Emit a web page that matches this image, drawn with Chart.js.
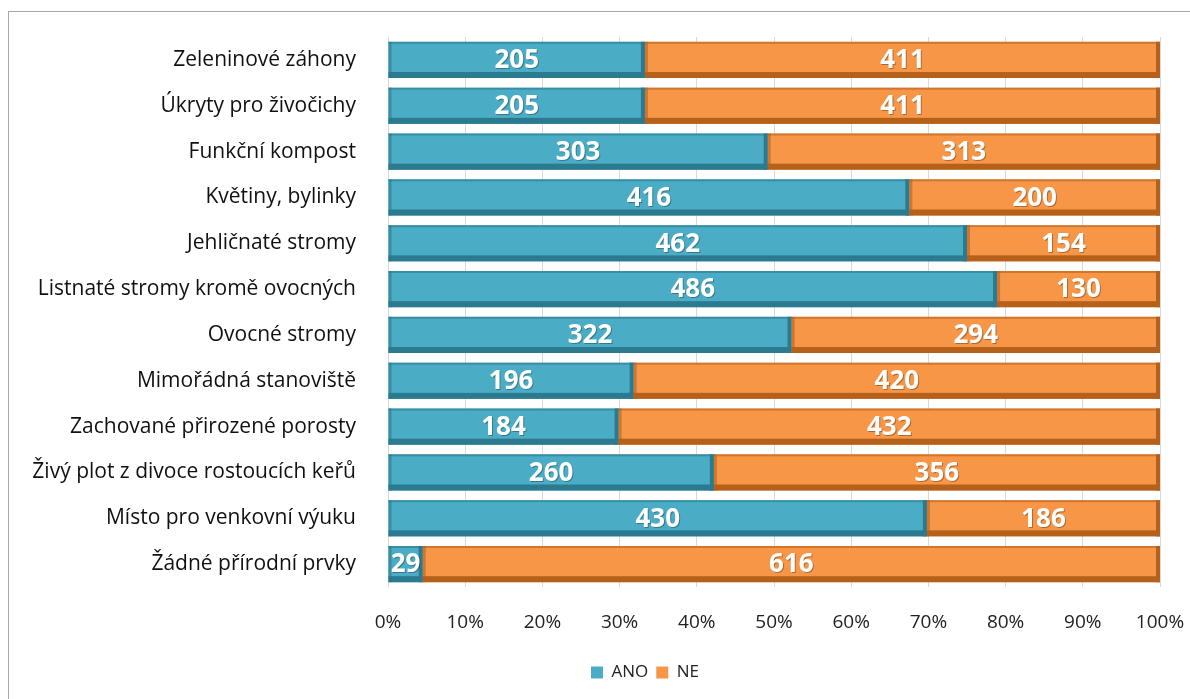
<!DOCTYPE html>
<html lang="cs">
<head>
  <meta charset="UTF-8">
  <title>Přírodní prvky na školních zahradách</title>
  <script src="https://cdn.jsdelivr.net/npm/chart.js"></script>
  <style>
    html, body { margin: 0; padding: 0; background: #fff; }
    #wrap { position: relative; width: 1190px; height: 699px; overflow: hidden; }
    #frame { position: absolute; left: 8px; top: 11px; width: 1200px; height: 720px; border: 1px solid #a8a8a8; box-sizing: border-box; }
    canvas { position: absolute; left: 0; top: 0; }
  </style>
</head>
<body>
  <div id="wrap">
    <div id="frame"></div>
    <canvas id="graf" width="1190" height="699"></canvas>
  </div>

  <script>
    const kategorie = [
      "Zeleninové záhony",
      "Úkryty pro živočichy",
      "Funkční kompost",
      "Květiny, bylinky",
      "Jehličnaté stromy",
      "Listnaté stromy kromě ovocných",
      "Ovocné stromy",
      "Mimořádná stanoviště",
      "Zachované přirozené porosty",
      "Živý plot z divoce rostoucích keřů",
      "Místo pro venkovní výuku",
      "Žádné přírodní prvky"
    ];
    const ano = [205, 205, 303, 416, 462, 486, 322, 196, 184, 260, 430, 29];
    const ne  = [411, 411, 313, 200, 154, 130, 294, 420, 432, 356, 186, 616];
    const osaX = [0, 10, 20, 30, 40, 50, 60, 70, 80, 90, 100];

    const FONT = "'Open Sans', 'DejaVu Sans', sans-serif";
    const modra = '#4bacc6', modraTm = '#2b7a90';
    const oranz = '#f79646', oranzTm = '#b5611c';

    // 100% skládaný graf: podíly ze skutečných počtů
    const anoPct = ano.map((v, i) => v / (v + ne[i]) * 100);
    const nePct  = ne.map((v, i) => v / (ano[i] + v) * 100);

    // plastický okraj sloupců a popisky hodnot
    const bevel = {
      id: 'bevel',
      afterLayout(chart) {
        // legenda je v originále posunutá doprava
        chart.legend.left += 60;
        chart.legend.right += 60;
      },
      afterDatasetsDraw(chart) {
        const ctx = chart.ctx;
        chart.data.datasets.forEach((ds, di) => {
          const meta = chart.getDatasetMeta(di);
          meta.data.forEach((bar, i) => {
            const x0 = Math.min(bar.base, bar.x), x1 = Math.max(bar.base, bar.x);
            const y0 = bar.y - bar.height / 2, y1 = bar.y + bar.height / 2;
            ctx.save();
            ctx.fillStyle = ds.dark;
            ctx.fillRect(x0, y1 - 6, x1 - x0, 6);
            ctx.fillRect(x1 - 4, y0, 4, y1 - y0);
            ctx.globalAlpha = 0.6;
            ctx.fillRect(x0, y0, 3, y1 - y0);
            ctx.fillRect(x0, y0, x1 - x0, 2);
            ctx.restore();

            const txt = String(ds.counts[i]);
            ctx.save();
            ctx.font = "bold 26px " + FONT;
            ctx.textAlign = 'center';
            ctx.textBaseline = 'middle';
            ctx.fillStyle = 'rgba(0,0,0,0.3)';
            const cx = (x0 + x1) / 2;
            ctx.fillText(txt, cx + 1, bar.y + 2);
            ctx.fillStyle = '#ffffff';
            ctx.fillText(txt, cx, bar.y + 1);
            ctx.restore();
          });
        });
      }
    };

    new Chart(document.getElementById("graf"), {
      type: 'bar',
      data: {
        labels: kategorie,
        datasets: [
          { label: 'ANO', data: anoPct, counts: ano, backgroundColor: modra, dark: modraTm,
            borderWidth: 0, barPercentage: 0.79, categoryPercentage: 1 },
          { label: 'NE', data: nePct, counts: ne, backgroundColor: oranz, dark: oranzTm,
            borderWidth: 0, barPercentage: 0.79, categoryPercentage: 1 }
        ]
      },
      options: {
        indexAxis: 'y',
        responsive: false,
        animation: false,
        layout: { padding: { left: 10, right: 30, top: 37, bottom: 8 } },
        scales: {
          x: {
            stacked: true, min: 0, max: 100,
            afterBuildTicks: ax => { ax.ticks = osaX.map(v => ({ value: v })); },
            ticks: { callback: v => v + '%', color: '#222', font: { family: FONT, size: 19 }, padding: 24, maxRotation: 0 },
            grid: { color: '#d9d9d9', drawTicks: false },
            border: { display: false },
            afterFit: ax => { ax.height = 69; ax.paddingRight = 0; ax.paddingLeft = 0; }
          },
          y: {
            stacked: true,
            ticks: { color: '#111', font: { family: FONT, size: 21 }, padding: 24 },
            grid: { display: false },
            border: { display: false },
            afterFit: ax => { ax.width = 378; }
          }
        },
        plugins: {
          legend: {
            position: 'bottom',
            labels: { color: '#222', font: { family: FONT, size: 17 }, boxWidth: 12, boxHeight: 12, padding: 8 }
          },
          tooltip: { enabled: false }
        }
      },
      plugins: [bevel]
    });
  </script>
</body>
</html>
